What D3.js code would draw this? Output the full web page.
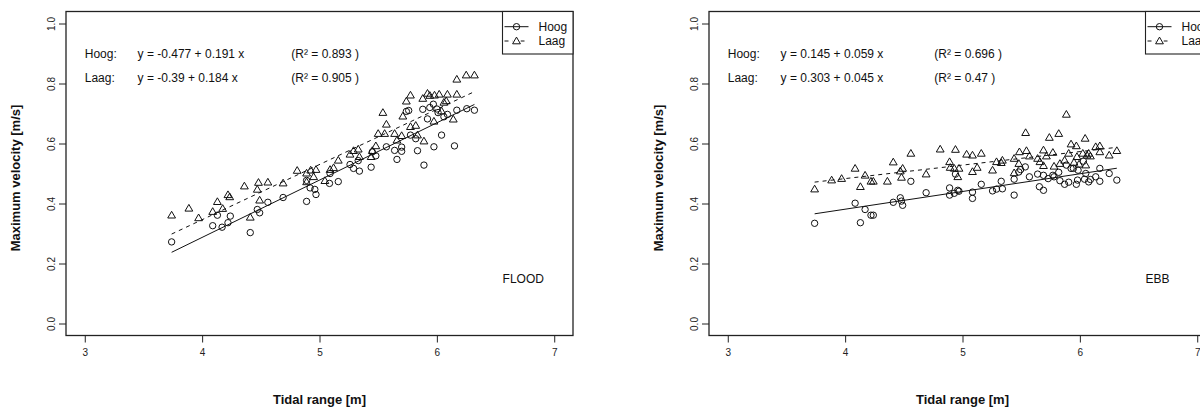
<!DOCTYPE html>
<html>
<head>
<meta charset="utf-8">
<script src="https://cdn.jsdelivr.net/npm/d3@7"></script>
<style>
  body { margin: 0; background: #fff; }
  svg { display: block; font-family: "Liberation Sans", Arial, sans-serif; }
</style>
</head>
<body>
<div id="chart"></div>
<script>
// tidal range [m] vs maximum velocity [m/s]
const xTicks = [3, 4, 5, 6, 7];
const yTicks = [0, 0.2, 0.4, 0.6, 0.8, 1.0];
const seriesNames = ["Hoog", "Laag"];

const floodHoog = [
  [3.74, 0.272], [4.09, 0.326], [4.13, 0.361], [4.17, 0.321], [4.22, 0.336], [4.24, 0.358],
  [4.41, 0.303], [4.47, 0.38], [4.49, 0.369], [4.56, 0.404], [4.69, 0.42], [4.89, 0.407],
  [4.89, 0.477], [4.92, 0.452], [4.96, 0.447], [4.97, 0.43], [5.085, 0.467], [5.09, 0.5],
  [5.16, 0.473], [5.26, 0.53], [5.29, 0.517], [5.33, 0.543], [5.34, 0.508], [5.44, 0.521],
  [5.45, 0.572], [5.48, 0.559], [5.57, 0.589], [5.64, 0.577], [5.66, 0.547], [5.7, 0.588],
  [5.7, 0.574], [5.74, 0.707], [5.76, 0.71], [5.775, 0.628], [5.82, 0.616], [5.835, 0.576],
  [5.88, 0.714], [5.89, 0.528], [5.92, 0.682], [5.94, 0.72], [5.97, 0.731], [5.975, 0.589],
  [6.0, 0.715], [6.01, 0.703], [6.04, 0.628], [6.06, 0.689], [6.09, 0.697], [6.15, 0.592],
  [6.17, 0.711], [6.255, 0.716], [6.32, 0.711]
];
const floodLaag = [
  [3.74, 0.361], [3.887, 0.384], [3.97, 0.352], [4.09, 0.373], [4.13, 0.406], [4.175, 0.383],
  [4.22, 0.429], [4.235, 0.422], [4.36, 0.458], [4.41, 0.354], [4.47, 0.447], [4.48, 0.47],
  [4.49, 0.411], [4.56, 0.471], [4.69, 0.468], [4.81, 0.51], [4.89, 0.501], [4.89, 0.472],
  [4.925, 0.511], [4.95, 0.489], [4.97, 0.513], [5.046, 0.476], [5.09, 0.513], [5.12, 0.519],
  [5.16, 0.544], [5.26, 0.564], [5.29, 0.576], [5.33, 0.581], [5.34, 0.556], [5.44, 0.556],
  [5.45, 0.576], [5.48, 0.592], [5.5, 0.633], [5.54, 0.703], [5.555, 0.633], [5.57, 0.664],
  [5.64, 0.633], [5.66, 0.611], [5.7, 0.626], [5.71, 0.691], [5.74, 0.741], [5.775, 0.761],
  [5.775, 0.656], [5.82, 0.66], [5.835, 0.628], [5.88, 0.75], [5.89, 0.608], [5.92, 0.767],
  [5.94, 0.76], [5.975, 0.674], [5.98, 0.761], [6.02, 0.764], [6.04, 0.708], [6.06, 0.737],
  [6.08, 0.742], [6.09, 0.764], [6.14, 0.681], [6.17, 0.814], [6.17, 0.764], [6.25, 0.828],
  [6.32, 0.828]
];
const ebbHoog = [
  [3.74, 0.334], [4.085, 0.401], [4.13, 0.336], [4.17, 0.38], [4.22, 0.361], [4.24, 0.361],
  [4.41, 0.404], [4.47, 0.419], [4.48, 0.408], [4.49, 0.394], [4.56, 0.474], [4.69, 0.436],
  [4.89, 0.452], [4.89, 0.428], [4.93, 0.434], [4.94, 0.498], [4.96, 0.444], [4.97, 0.441],
  [5.085, 0.417], [5.085, 0.438], [5.16, 0.464], [5.256, 0.442], [5.29, 0.448], [5.33, 0.474],
  [5.34, 0.449], [5.44, 0.428], [5.44, 0.481], [5.48, 0.505], [5.495, 0.513], [5.535, 0.522],
  [5.57, 0.489], [5.64, 0.498], [5.655, 0.456], [5.69, 0.444], [5.69, 0.494], [5.73, 0.483],
  [5.77, 0.494], [5.78, 0.489], [5.82, 0.504], [5.83, 0.476], [5.87, 0.464], [5.885, 0.528],
  [5.905, 0.471], [5.925, 0.517], [5.945, 0.517], [5.97, 0.464], [5.98, 0.478], [5.985, 0.511],
  [6.03, 0.541], [6.04, 0.481], [6.05, 0.5], [6.075, 0.472], [6.09, 0.48], [6.135, 0.489],
  [6.17, 0.517], [6.17, 0.474], [6.25, 0.5], [6.315, 0.478]
];
const ebbLaag = [
  [3.74, 0.448], [3.885, 0.478], [3.97, 0.483], [4.085, 0.517], [4.13, 0.456], [4.17, 0.494],
  [4.22, 0.474], [4.24, 0.474], [4.36, 0.474], [4.41, 0.538], [4.47, 0.508], [4.48, 0.487],
  [4.49, 0.517], [4.56, 0.567], [4.69, 0.498], [4.81, 0.581], [4.89, 0.539], [4.895, 0.52],
  [4.93, 0.517], [4.94, 0.58], [4.96, 0.489], [4.97, 0.517], [5.035, 0.564], [5.085, 0.506],
  [5.085, 0.561], [5.125, 0.52], [5.16, 0.567], [5.256, 0.511], [5.29, 0.539], [5.33, 0.536],
  [5.34, 0.544], [5.44, 0.55], [5.44, 0.502], [5.48, 0.533], [5.485, 0.572], [5.538, 0.636],
  [5.545, 0.576], [5.57, 0.558], [5.64, 0.55], [5.66, 0.539], [5.69, 0.578], [5.69, 0.526],
  [5.715, 0.558], [5.74, 0.62], [5.77, 0.57], [5.78, 0.524], [5.82, 0.633], [5.83, 0.533],
  [5.87, 0.544], [5.885, 0.697], [5.905, 0.567], [5.925, 0.598], [5.95, 0.537], [5.97, 0.592],
  [5.975, 0.556], [5.993, 0.531], [6.025, 0.567], [6.045, 0.617], [6.05, 0.528], [6.06, 0.561],
  [6.075, 0.567], [6.09, 0.558], [6.135, 0.589], [6.17, 0.592], [6.17, 0.572], [6.25, 0.561],
  [6.315, 0.576]
];

// regression coefficients [intercept, slope] and R²
const floodFits = [[-0.477, 0.191], [-0.39, 0.184]];
const floodR2 = [0.893, 0.905];
const ebbFits = [[0.145, 0.059], [0.303, 0.045]];
const ebbR2 = [0.696, 0.47];

const panels = [
  { label: "FLOOD", left: 66, data: [floodHoog, floodLaag], fits: floodFits, r2: floodR2 },
  { label: "EBB", left: 709, data: [ebbHoog, ebbLaag], fits: ebbFits, r2: ebbR2 }
];

const svgWidth = 1200;
const svgHeight = 407;
const plotW = 507;
const plotTop = 11.5;
const plotBottom = 335.5;

const svg = d3
  .select("#chart")
  .append("svg")
  .attr("width", svgWidth)
  .attr("height", svgHeight);

const trianglePath = "M0,-3.9L3.9,2.8L-3.9,2.8Z";

const drawPoint = (sel, idx) => {
  if (idx === 0) {
    sel.append("circle").attr("r", 3.2);
  } else {
    sel.append("path").attr("d", trianglePath);
  }
  sel.selectAll("circle,path")
    .attr("fill", "none")
    .attr("stroke", "#111")
    .attr("stroke-width", 1);
};

panels.forEach((p) => {
  const x = d3.scaleLinear().domain([2.84, 7.16]).range([p.left, p.left + plotW]);
  const y = d3.scaleLinear().domain([-0.04, 1.04]).range([plotBottom, plotTop]);
  const g = svg.append("g");

  // x axis
  const xAxis = g.append("g")
    .attr("transform", `translate(0,${plotBottom})`)
    .call(d3.axisBottom(x).tickValues(xTicks).tickSize(7).tickPadding(6).tickFormat(d3.format("d")));
  xAxis.select(".domain").remove();
  xAxis.selectAll("text").attr("font-size", 10).attr("fill", "#222");
  xAxis.selectAll("line").attr("stroke", "#222");
  xAxis.attr("font-family", null);

  // y axis with rotated labels
  const yAxis = g.append("g")
    .attr("transform", `translate(${p.left},0)`)
    .call(d3.axisLeft(y).tickValues(yTicks).tickSize(7).tickFormat(d3.format(".1f")));
  yAxis.select(".domain").remove();
  yAxis.attr("font-family", null);
  yAxis.selectAll("line").attr("stroke", "#222");
  yAxis.selectAll("text")
    .attr("x", null)
    .attr("dy", null)
    .attr("transform", "translate(-10.7,0) rotate(-90)")
    .attr("text-anchor", "middle")
    .attr("font-size", 10)
    .attr("fill", "#222");

  // box
  g.append("rect")
    .attr("x", p.left)
    .attr("y", plotTop)
    .attr("width", plotW)
    .attr("height", plotBottom - plotTop)
    .attr("fill", "none")
    .attr("stroke", "#222")
    .attr("stroke-width", 1.3);

  // axis titles
  g.append("text")
    .attr("x", (x.range()[0] + x.range()[1]) / 2)
    .attr("y", 404)
    .attr("text-anchor", "middle")
    .attr("font-size", 13)
    .attr("font-weight", "bold")
    .attr("fill", "#111")
    .text("Tidal range [m]");

  g.append("text")
    .attr("transform", `translate(${p.left - 46},178) rotate(-90)`)
    .attr("text-anchor", "middle")
    .attr("font-size", 13)
    .attr("font-weight", "bold")
    .attr("fill", "#111")
    .text("Maximum velocity [m/s]");

  // regression lines
  p.data.forEach((series, i) => {
    const [x0, x1] = d3.extent(series, (d) => d[0]);
    const [a, b] = p.fits[i];
    g.append("line")
      .attr("x1", x(x0))
      .attr("y1", y(a + b * x0))
      .attr("x2", x(x1))
      .attr("y2", y(a + b * x1))
      .attr("stroke", "#111")
      .attr("stroke-width", 1)
      .attr("stroke-dasharray", i === 1 ? "4,4" : null);
  });

  // points
  p.data.forEach((series, i) => {
    g.selectAll(`g.pt${i}`)
      .data(series)
      .enter()
      .append("g")
      .attr("class", `pt${i}`)
      .attr("transform", (d) => `translate(${x(d[0])},${y(d[1])})`)
      .each(function () {
        drawPoint(d3.select(this), i);
      });
  });

  // equations
  const eqY = [0.9, 0.82];
  seriesNames.forEach((name, i) => {
    const [a, b] = p.fits[i];
    const row = [
      [3.0, name + ":"],
      [3.45, `y = ${a} + ${b} x`],
      [4.76, `(R\u00B2 = ${p.r2[i]} )`]
    ];
    row.forEach(([tx, txt]) => {
      g.append("text")
        .attr("x", x(tx))
        .attr("y", y(eqY[i]))
        .attr("dy", "0.35em")
        .attr("font-size", 12)
        .attr("fill", "#111")
        .text(txt);
    });
  });

  // panel label
  g.append("text")
    .attr("x", x(6.56))
    .attr("y", y(0.15))
    .attr("dy", "0.35em")
    .attr("font-size", 12)
    .attr("fill", "#111")
    .text(p.label);

  // legend
  const lx = p.left + plotW - 70.5;
  g.append("rect")
    .attr("x", lx)
    .attr("y", plotTop)
    .attr("width", 70.5)
    .attr("height", 42.5)
    .attr("fill", "#fff")
    .attr("stroke", "#222")
    .attr("stroke-width", 1.1);
  const legY = [26.7, 41];
  seriesNames.forEach((name, i) => {
    g.append("line")
      .attr("x1", lx + 2)
      .attr("x2", lx + 26)
      .attr("y1", legY[i])
      .attr("y2", legY[i])
      .attr("stroke", "#111")
      .attr("stroke-width", 1)
      .attr("stroke-dasharray", i === 1 ? "4,4" : null);
    const s = g.append("g").attr("transform", `translate(${lx + 14},${legY[i]})`);
    if (i === 1) {
      s.append("rect").attr("x", -4).attr("y", -4).attr("width", 8).attr("height", 7).attr("fill", "#fff");
    }
    drawPoint(s, i);
    g.append("text")
      .attr("x", lx + 36)
      .attr("y", legY[i])
      .attr("dy", "0.35em")
      .attr("font-size", 12)
      .attr("fill", "#111")
      .text(name);
  });
});
</script>
</body>
</html>
